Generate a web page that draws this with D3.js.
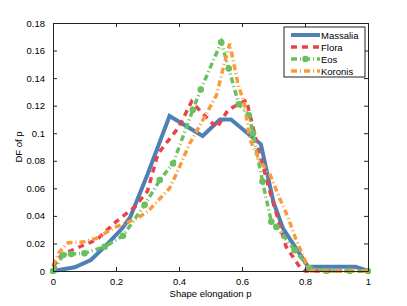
<!DOCTYPE html>
<html>
<head>
<meta charset="utf-8">
<script src="https://cdn.jsdelivr.net/npm/d3@7"></script>
<style>
body { margin: 0; background: #fff; }
text { font-family: "Liberation Sans", Arial, sans-serif; }
</style>
</head>
<body>
<script>
// Values
var massaliaX = [0, 0.069, 0.12, 0.17, 0.22, 0.245, 0.3, 0.37, 0.475, 0.53, 0.565, 0.66, 0.7, 0.73, 0.81, 0.96, 1];
var massaliaY = [0, 0.0027, 0.008, 0.019, 0.031, 0.039, 0.07, 0.1125, 0.098, 0.11, 0.11, 0.092, 0.05, 0.031, 0.003, 0.003, 0];

var floraX = [0, 0.027, 0.085, 0.138, 0.2, 0.26, 0.3, 0.333, 0.4, 0.44, 0.47, 0.52, 0.556, 0.614, 0.65, 0.688, 0.74, 0.783, 0.8, 1];
var floraY = [0.003, 0.0116, 0.0176, 0.0225, 0.0357, 0.0466, 0.058, 0.085, 0.1046, 0.123, 0.1155, 0.104, 0.117, 0.124, 0.09, 0.058, 0.0176, 0.003, 0, 0];

var eosX = [0, 0.032, 0.058, 0.1, 0.164, 0.222, 0.291, 0.339, 0.381, 0.444, 0.469, 0.534, 0.558, 0.59, 0.622, 0.635, 0.665, 0.693, 0.709, 0.767, 0.815, 0.868, 0.942, 1];
var eosY = [0, 0.0116, 0.0123, 0.0128, 0.0176, 0.0255, 0.048, 0.066, 0.078, 0.117, 0.1317, 0.166, 0.147, 0.121, 0.113, 0.1, 0.065, 0.0357, 0.032, 0.0152, 0.002, 0, 0, 0];

var koronisX = [0, 0.021, 0.048, 0.095, 0.138, 0.19, 0.265, 0.3, 0.37, 0.397, 0.434, 0.455, 0.519, 0.54, 0.561, 0.587, 0.609, 0.624, 0.656, 0.688, 0.72, 0.746, 0.772, 0.804, 0.82, 1];
var koronisY = [0.004, 0.014, 0.0205, 0.021, 0.0237, 0.031, 0.038, 0.043, 0.06, 0.0732, 0.0926, 0.101, 0.1276, 0.147, 0.165, 0.136, 0.12, 0.096, 0.08, 0.0706, 0.0525, 0.039, 0.0224, 0.0055, 0, 0];

var xTicks = [0, 0.2, 0.4, 0.6, 0.8, 1];
var yTicks = [0, 0.02, 0.04, 0.06, 0.08, 0.1, 0.12, 0.14, 0.16, 0.18];

var series = [
    {name: "Massalia", xs: massaliaX, ys: massaliaY, color: "#4d80b5", dash: null, width: 4, marker: false},
    {name: "Flora", xs: floraX, ys: floraY, color: "#e8434b", dash: "6,5", width: 3.5, marker: false},
    {name: "Eos", xs: eosX, ys: eosY, color: "#6abf5e", dash: "6,3,1,3", width: 3.5, marker: true},
    {name: "Koronis", xs: koronisX, ys: koronisY, color: "#fb9a3a", dash: "6,3,1,3", width: 3.5, marker: false}
];

//Width and height
var w = 407, h = 306;
var pLeft = 53, pRight = 368, pTop = 23, pBottom = 271;

var xScale = d3.scaleLinear().domain([0, 1]).range([pLeft, pRight]);
var yScale = d3.scaleLinear().domain([0, 0.18]).range([pBottom, pTop]);

var svg = d3.select("body").append("svg")
    .attr("width", w)
    .attr("height", h);

svg.append("defs").append("clipPath").attr("id", "clip")
    .append("rect")
    .attr("x", pLeft - 3).attr("y", pTop)
    .attr("width", pRight - pLeft + 6).attr("height", pBottom - pTop + 3);

// lines
var line = d3.line()
    .x(function (d) { return xScale(d[0]); })
    .y(function (d) { return yScale(d[1]); });

var plot = svg.append("g").attr("clip-path", "url(#clip)");

series.forEach(function (s) {
    var pts = s.xs.map(function (x, i) { return [x, s.ys[i]]; });
    plot.append("path")
        .datum(pts)
        .attr("d", line)
        .attr("fill", "none")
        .attr("stroke", s.color)
        .attr("stroke-width", s.width)
        .attr("stroke-dasharray", s.dash)
        .attr("stroke-linejoin", "miter");
    if (s.marker) {
        plot.selectAll(null)
            .data(pts)
            .enter()
            .append("circle")
            .attr("cx", function (d) { return xScale(d[0]); })
            .attr("cy", function (d) { return yScale(d[1]); })
            .attr("r", 3.3)
            .attr("fill", s.color);
    }
});

// axes box with inward ticks
var axisColor = "#222";
var bottomAxis = d3.axisBottom(xScale).tickValues(xTicks).tickSizeInner(-4).tickSizeOuter(0).tickPadding(7)
    .tickFormat(function (d) { return d3.format("")(d); });
var topAxis = d3.axisTop(xScale).tickValues(xTicks).tickSizeInner(-4).tickSizeOuter(0).tickFormat("");
var leftAxis = d3.axisLeft(yScale).tickValues(yTicks).tickSizeInner(-4).tickSizeOuter(0).tickPadding(8)
    .tickFormat(function (d) { return d3.format("")(+d.toFixed(2)); });
var rightAxis = d3.axisRight(yScale).tickValues(yTicks).tickSizeInner(-4).tickSizeOuter(0).tickFormat("");

function styleAxis(g) {
    g.selectAll("path, line").attr("stroke", axisColor);
    g.selectAll("text").attr("fill", "#000").attr("font-size", "9.5px")
        .attr("font-family", "'Liberation Sans', Arial, sans-serif");
}

svg.append("g").attr("transform", "translate(0," + pBottom + ")").call(bottomAxis).call(styleAxis);
svg.append("g").attr("transform", "translate(0," + pTop + ")").call(topAxis).call(styleAxis);
svg.append("g").attr("transform", "translate(" + pLeft + ",0)").call(leftAxis).call(styleAxis);
svg.append("g").attr("transform", "translate(" + pRight + ",0)").call(rightAxis).call(styleAxis);

// axis labels
svg.append("text")
    .attr("x", (pLeft + pRight) / 2)
    .attr("y", 297)
    .attr("text-anchor", "middle")
    .attr("font-size", "9.5px")
    .text("Shape elongation p");

svg.append("text")
    .attr("transform", "translate(22," + ((pTop + pBottom) / 2) + ") rotate(-90)")
    .attr("text-anchor", "middle")
    .attr("font-size", "9.5px")
    .text("DF of p");

// legend
var lg = svg.append("g");
lg.append("rect")
    .attr("x", 284).attr("y", 27)
    .attr("width", 81).attr("height", 50)
    .attr("fill", "#fff")
    .attr("stroke", axisColor)
    .attr("stroke-width", 1);

series.forEach(function (s, i) {
    var y = 35 + i * 12;
    lg.append("line")
        .attr("x1", 291).attr("x2", 320)
        .attr("y1", y).attr("y2", y)
        .attr("stroke", s.color)
        .attr("stroke-width", s.width)
        .attr("stroke-dasharray", s.dash);
    if (s.marker) {
        lg.append("circle").attr("cx", 305.5).attr("cy", y).attr("r", 3.3).attr("fill", s.color);
    }
    lg.append("text")
        .attr("x", 321).attr("y", y + 3.5)
        .attr("font-size", "9.5px")
        .text(s.name);
});
</script>
</body>
</html>
